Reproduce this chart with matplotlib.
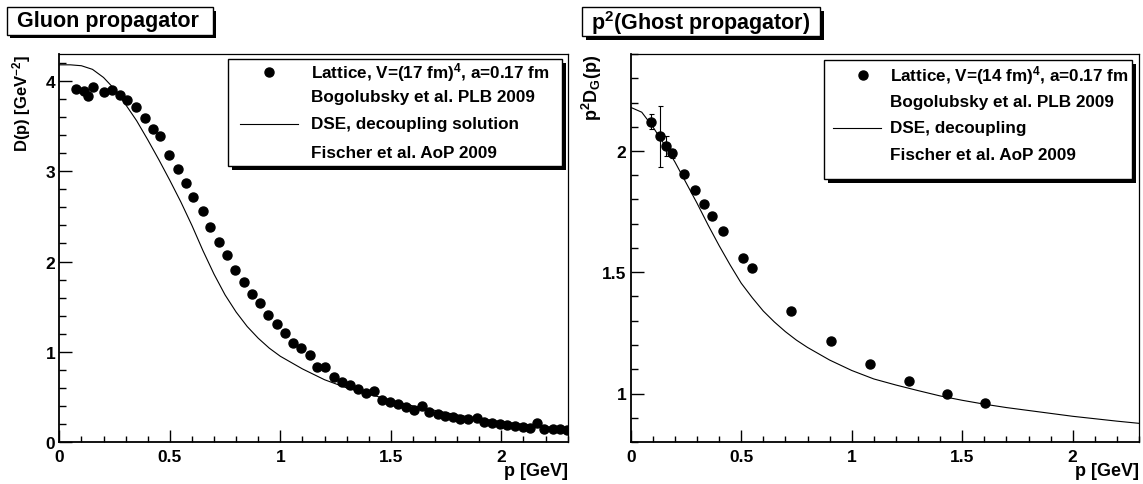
import matplotlib
matplotlib.use("Agg")
import matplotlib.pyplot as plt
from matplotlib.patches import Rectangle
from matplotlib.lines import Line2D
from matplotlib.ticker import MultipleLocator

# ---- data ----
gluon_p = [0.076, 0.110, 0.131, 0.153, 0.201, 0.240, 0.275, 0.307, 0.347, 0.388,
           0.424, 0.457, 0.498, 0.538, 0.572, 0.607, 0.648, 0.684, 0.722, 0.757,
           0.795, 0.834, 0.872, 0.909, 0.946, 0.983, 1.020, 1.057, 1.094, 1.133,
           1.168, 1.203, 1.242, 1.279, 1.315, 1.351, 1.388, 1.424, 1.461, 1.497,
           1.534, 1.570, 1.606, 1.639, 1.674, 1.711, 1.745, 1.780, 1.815, 1.851,
           1.888, 1.921, 1.958, 1.993, 2.027, 2.062, 2.097, 2.131, 2.161, 2.195,
           2.232, 2.265, 2.295]
gluon_D = [3.91, 3.89, 3.84, 3.93, 3.88, 3.90, 3.85, 3.79, 3.71, 3.59,
           3.47, 3.39, 3.18, 3.02, 2.87, 2.72, 2.56, 2.38, 2.22, 2.07,
           1.91, 1.77, 1.64, 1.54, 1.41, 1.31, 1.21, 1.10, 1.04, 0.96,
           0.83, 0.83, 0.72, 0.67, 0.63, 0.59, 0.54, 0.56, 0.47, 0.44,
           0.42, 0.39, 0.36, 0.40, 0.33, 0.31, 0.29, 0.28, 0.26, 0.25,
           0.27, 0.22, 0.21, 0.20, 0.19, 0.18, 0.17, 0.16, 0.21, 0.14,
           0.14, 0.14, 0.13]

gluon_dse_p = [0.0, 0.05, 0.10, 0.15, 0.20, 0.25, 0.30, 0.35, 0.40, 0.45,
               0.50, 0.55, 0.60, 0.65, 0.70, 0.75, 0.80, 0.85, 0.90, 0.95,
               1.00, 1.10, 1.20, 1.30, 1.40, 1.50, 1.60, 1.70, 1.80, 1.90,
               2.00, 2.10, 2.20, 2.30]
gluon_dse_D = [4.18, 4.18, 4.17, 4.13, 4.04, 3.91, 3.74, 3.56, 3.35, 3.13,
               2.90, 2.66, 2.40, 2.12, 1.86, 1.63, 1.44, 1.28, 1.15, 1.04,
               0.95, 0.81, 0.69, 0.60, 0.53, 0.465, 0.40, 0.35, 0.30, 0.26,
               0.225, 0.195, 0.17, 0.15]

ghost_p = [0.094, 0.131, 0.159, 0.187, 0.243, 0.289, 0.331, 0.367, 0.418,
           0.508, 0.547, 0.727, 0.905, 1.084, 1.259, 1.432, 1.603]
ghost_G = [2.12, 2.06, 2.02, 1.99, 1.906, 1.838, 1.78, 1.73, 1.67,
           1.560, 1.516, 1.342, 1.215, 1.122, 1.053, 1.000, 0.962]
ghost_err_lo = [0.031, 0.127, 0.04, 0.02, 0, 0, 0, 0, 0, 0, 0, 0, 0, 0, 0, 0, 0]
ghost_err_hi = [0.034, 0.127, 0.04, 0.02, 0, 0, 0, 0, 0, 0, 0, 0, 0, 0, 0, 0, 0]

ghost_dse_p = [0.0, 0.05, 0.10, 0.15, 0.20, 0.25, 0.30, 0.35, 0.40, 0.45,
               0.50, 0.55, 0.60, 0.65, 0.70, 0.75, 0.80, 0.90, 1.00, 1.10,
               1.20, 1.30, 1.40, 1.50, 1.60, 1.70, 1.80, 1.90, 2.00, 2.10,
               2.20, 2.30]
ghost_dse_G = [2.18, 2.16, 2.10, 2.03, 1.955, 1.87, 1.785, 1.695, 1.61, 1.53,
               1.455, 1.395, 1.34, 1.295, 1.255, 1.22, 1.19, 1.138, 1.095, 1.06,
               1.035, 1.012, 0.99, 0.972, 0.956, 0.942, 0.93, 0.918, 0.906, 0.896,
               0.886, 0.877]

W, H = 1143, 485
FONT = "Liberation Sans"

plt.rcParams["font.family"] = FONT
plt.rcParams["font.weight"] = "bold"
plt.rcParams["mathtext.fontset"] = "custom"
plt.rcParams["mathtext.rm"] = FONT + ":bold"
plt.rcParams["mathtext.it"] = FONT + ":bold"
plt.rcParams["mathtext.bf"] = FONT + ":bold"
plt.rcParams["axes.unicode_minus"] = True


def fx(x):
    return x / W


def fy(y):
    return 1 - y / H


def shadow_box(fig, x0, y0, x1, y1, off=3.5):
    # ROOT-style box with black drop shadow (pixel coords, y down)
    fig.add_artist(Rectangle((fx(x0 + off), fy(y1 + off)), fx(x1 - x0), (y1 - y0) / H,
                             transform=fig.transFigure, facecolor="black",
                             edgecolor="none", zorder=5))
    fig.add_artist(Rectangle((fx(x0), fy(y1)), fx(x1 - x0), (y1 - y0) / H,
                             transform=fig.transFigure, facecolor="white",
                             edgecolor="black", linewidth=1.0, zorder=6))


def style_axes(ax, xmaj, ymaj, ymin):
    ax.set_xlim(0, 2.3)
    ax.xaxis.set_major_locator(MultipleLocator(xmaj))
    ax.xaxis.set_minor_locator(MultipleLocator(0.1))
    ax.yaxis.set_major_locator(MultipleLocator(ymaj))
    ax.yaxis.set_minor_locator(MultipleLocator(ymin))
    ax.tick_params(axis="both", which="both", direction="in", top=False, right=False,
                   labelsize=12.5, width=1.0)
    ax.tick_params(axis="x", which="major", length=8.4, pad=5)
    ax.tick_params(axis="x", which="minor", length=4.2)
    ax.tick_params(axis="y", which="major", length=9.5, pad=3)
    ax.tick_params(axis="y", which="minor", length=4.8)
    for lab in ax.get_xticklabels() + ax.get_yticklabels():
        lab.set_fontweight("bold")
    for s in ax.spines.values():
        s.set_linewidth(0.9)
    ax.spines["left"].set_linewidth(1.3)
    ax.spines["bottom"].set_linewidth(1.3)


def fmt(v, pos):
    return f"{v:g}"


def legend(fig, box, marker_x, line_x, text_x, rows, labels):
    x0, y0, x1, y1 = box
    shadow_box(fig, x0, y0, x1, y1, off=4)
    fig.add_artist(Line2D([fx(marker_x)], [fy(rows[0])], transform=fig.transFigure,
                          marker="o", markersize=6.5, color="black", linestyle="none",
                          zorder=7))
    fig.add_artist(Line2D([fx(line_x[0]), fx(line_x[1])], [fy(rows[2]), fy(rows[2])],
                          transform=fig.transFigure, color="black", linewidth=0.8,
                          zorder=7))
    for r, t in zip(rows, labels):
        fig.text(fx(text_x), fy(r), t, fontsize=12.3, fontweight="bold",
                 ha="left", va="center", zorder=8)


fig = plt.figure(figsize=(W / 100, H / 100), dpi=100)

ax1 = fig.add_axes([fx(59.3), fy(443), fx(567.7 - 59.3), 388 / H])
ax2 = fig.add_axes([fx(630.7), fy(443), fx(1139 - 630.7), 388 / H])

# gluon panel
ax1.plot(gluon_dse_p, gluon_dse_D, color="black", linewidth=0.8, zorder=2)
ax1.plot(gluon_p, gluon_D, "o", color="black", markersize=6.5, zorder=3)
ax1.set_ylim(0, 4.3)
style_axes(ax1, 0.5, 1, 0.2)

# ghost panel
ax2.plot(ghost_dse_p, ghost_dse_G, color="black", linewidth=0.8, zorder=2)
ax2.errorbar(ghost_p, ghost_G, yerr=[ghost_err_lo, ghost_err_hi], fmt="o",
             color="black", markersize=6.5, elinewidth=0.8, capsize=1.8,
             capthick=0.8, zorder=3)
ax2.set_ylim(0.8, 2.4)
style_axes(ax2, 0.5, 0.5, 0.1)

for ax in (ax1, ax2):
    ax.xaxis.set_major_formatter(plt.FuncFormatter(fmt))
    ax.yaxis.set_major_formatter(plt.FuncFormatter(fmt))
    ax.set_xlabel("p [GeV]", fontsize=13, fontweight="bold", loc="right")
    ax.xaxis.set_label_coords(1.0, -0.052)
    ax.xaxis.label.set_va("top")

fig.text(fx(33), fy(55), "D(p) [GeV$^{-2}$]", rotation=90, fontsize=12,
         fontweight="bold", ha="right", va="top")
fig.text(fx(604), fy(55), "p$^{2}$D$_{G}$(p)", rotation=90, fontsize=13,
         fontweight="bold", ha="right", va="top")

# title boxes
shadow_box(fig, 6.7, 8.3, 213, 35.5)
fig.text(fx(17), fy(22), "Gluon propagator", fontsize=15.5, fontweight="bold",
         ha="left", va="center", zorder=8)
shadow_box(fig, 582, 8.3, 820, 37)
fig.text(fx(591), fy(23), "p$^{2}$(Ghost propagator)", fontsize=15.5,
         fontweight="bold", ha="left", va="center", zorder=8)

legend(fig, (228, 60, 562, 167), 269, (240, 298), 311, [73, 98, 125, 154],
       ["Lattice, V=(17 fm)$^{4}$, a=0.17 fm", "Bogolubsky et al. PLB 2009",
        "DSE, decoupling solution", "Fischer et al. AoP 2009"])
legend(fig, (824, 61, 1132, 180), 863, (833, 881), 890, [76, 102, 129, 156],
       ["Lattice, V=(14 fm)$^{4}$, a=0.17 fm", "Bogolubsky et al. PLB 2009",
        "DSE, decoupling", "Fischer et al. AoP 2009"])

fig.savefig("out.png", dpi=100)
